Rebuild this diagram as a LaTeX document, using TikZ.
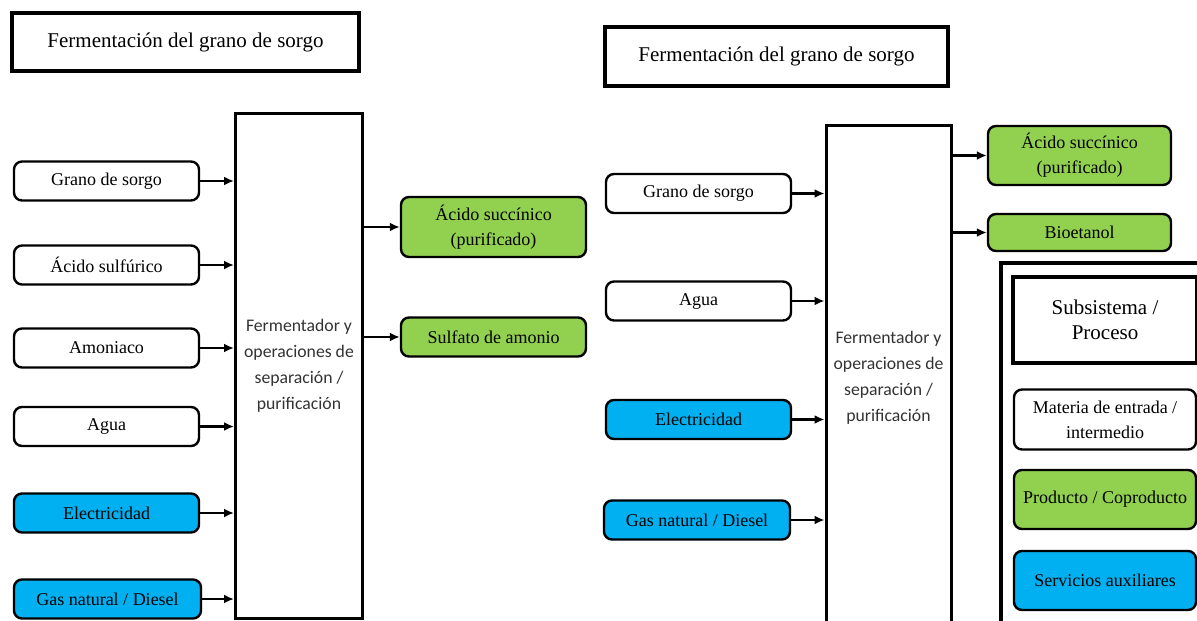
\documentclass[tikz,border=0pt]{standalone}
\usepackage{fontspec}
\setmainfont{Liberation Serif}
\newfontfamily\calibri{Carlito}
\usetikzlibrary{arrows.meta}

\definecolor{verde}{RGB}{146,208,80}
\definecolor{azul}{RGB}{0,176,240}

\tikzset{
  entrada/.style={draw, line width=2.4pt, rounded corners=8pt, fill=white,
    minimum width=185pt, minimum height=39pt, inner sep=0pt, align=center,
    font=\fontsize{18}{25}\selectfont},
  producto/.style={entrada, fill=verde},
  auxiliar/.style={entrada, fill=azul},
  titulo/.style={draw, line width=4.5pt, inner sep=0pt,
    font=\fontsize{21}{25}\selectfont},
  proceso/.style={draw, line width=3pt, inner sep=0pt, align=center,
    text=black!80, font=\calibri\fontsize{17.7}{26}\selectfont},
  flecha/.style={line width=2.4pt, -{Latex[length=10pt,width=9pt]}}
}

\begin{document}
\begin{tikzpicture}[x=1pt,y=-1pt]
\clip (0,0) rectangle (1197,621);
\fill[white] (0,0) rectangle (1197,621);

% Left diagram
\node[titulo, minimum width=347pt, minimum height=58pt] (tit1) at (185.5,42) {Fermentación del grano de sorgo};
\node[proceso, minimum width=127pt, minimum height=505pt] (fer1) at (299,365.5)
  {Fermentador y\\operaciones de\\separación /\\purificación};
% Inputs
\node[entrada] (gs1) at (106.5,181) {Grano de sorgo};
\node[entrada] (as1) at (106.5,265) {Ácido sulfúrico};
\node[entrada] (am1) at (106.5,348) {Amoniaco};
\node[entrada] (ag1) at (106.5,426.5) {Agua};
\node[auxiliar] (el1) at (106.5,513) {Electricidad};
\node[auxiliar, minimum width=187pt] (gn1) at (107.5,599) {Gas natural / Diesel};
\foreach \n in {gs1,as1,am1,ag1,el1,gn1}
  \draw[flecha] (\n.east) -- (\n.east -| fer1.west);
% Outputs
\node[producto, minimum height=60pt] (su1) at (493.5,227) {Ácido succínico\\(purificado)};
\node[producto] (sa1) at (493.5,337) {Sulfato de amonio};
\foreach \n in {su1,sa1}
  \draw[flecha] (\n.west -| fer1.east) -- (\n.west);

% Right diagram
\node[titulo, minimum width=343pt, minimum height=59pt] (tit2) at (776.5,56.5) {Fermentación del grano de sorgo};
\node[proceso, minimum width=125pt, minimum height=505pt] (fer2) at (888.5,377.5)
  {Fermentador y\\operaciones de\\separación /\\purificación};
% Inputs
\node[entrada] (gs2) at (698.5,193.5) {Grano de sorgo};
\node[entrada] (ag2) at (698.5,301) {Agua};
\node[auxiliar] (el2) at (698.5,419.5) {Electricidad};
\node[auxiliar, minimum width=186pt] (gn2) at (697,520) {Gas natural / Diesel};
\foreach \n in {gs2,ag2,el2,gn2}
  \draw[flecha] (\n.east) -- (\n.east -| fer2.west);
% Outputs
\node[producto, minimum width=183pt, minimum height=59pt] (su2) at (1079.5,155.5) {Ácido succínico\\(purificado)};
\node[producto, minimum width=183pt, minimum height=37pt] (bi2) at (1079.5,232.5) {Bioetanol};
\foreach \n in {su2,bi2}
  \draw[flecha] (\n.west -| fer2.east) -- (\n.west);

% Legend
\draw[line width=4pt] (1001,640) -- (1001,263) -- (1220,263);
\node[titulo, minimum width=184pt, minimum height=86pt, align=center] (sub) at (1105,320) {Subsistema /\\Proceso};
\node[entrada, minimum width=182pt, minimum height=60pt] (mat) at (1105,419.5) {Materia de entrada /\\intermedio};
\node[producto, minimum width=182pt, minimum height=59pt] (pro) at (1105,499.5) {Producto / Coproducto};
\node[auxiliar, minimum width=182pt, minimum height=59pt] (ser) at (1105,580.5) {Servicios auxiliares};
\end{tikzpicture}
\end{document}
